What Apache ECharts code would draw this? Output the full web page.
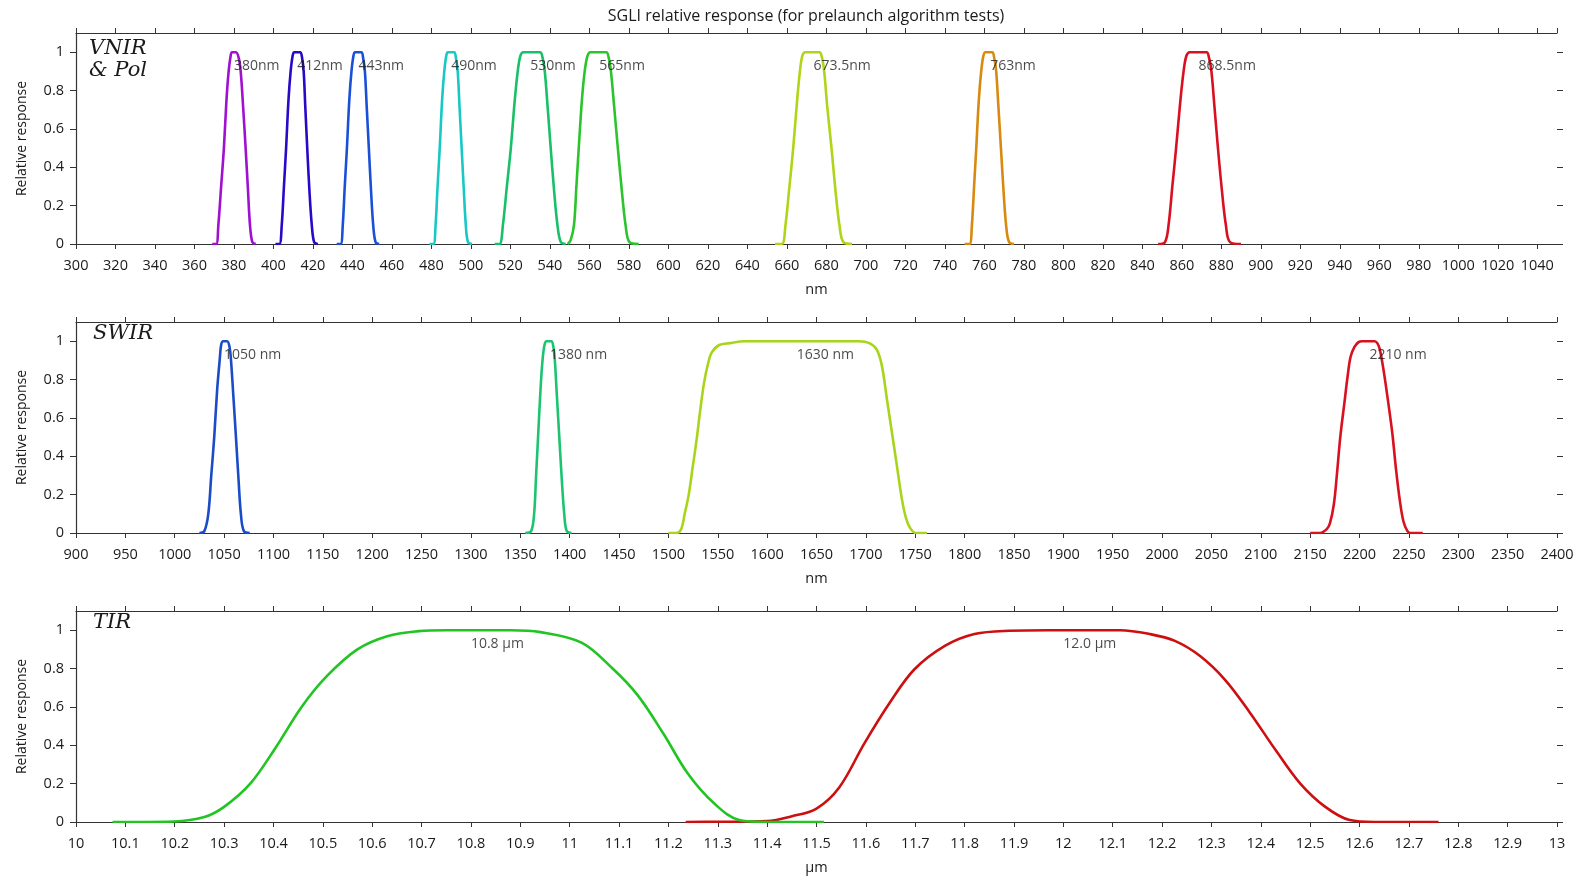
<!DOCTYPE html>
<html>
<head>
<meta charset="utf-8">
<script src="https://cdn.jsdelivr.net/npm/echarts@6/dist/echarts.min.js"></script>
<style>
  html, body { margin: 0; padding: 0; background: #fff; }
  #chart { width: 1585px; height: 882px; }
</style>
</head>
<body>
<div id="chart"></div>
<script>
// --- VNIR & Pol bands (nm, relative response) ---
const b380 = [[369,0],[371,0],[372.1,0.1],[373.5,0.3],[374.9,0.5],[376.2,0.75],[377.3,0.9],[378.3,0.98],[379,1],[381,1],[382.4,0.97],[383.4,0.9],[384.6,0.72],[385.9,0.5],[387.1,0.28],[388.1,0.1],[389.3,0.01],[391,0]];
const b412 = [[401,0],[403,0],[404.2,0.1],[405.3,0.3],[406.4,0.5],[407.6,0.75],[408.7,0.9],[409.7,0.98],[410.5,1],[413.5,1],[414.5,0.97],[415.3,0.9],[416.1,0.72],[417.1,0.5],[418.2,0.28],[419.4,0.1],[420.6,0.01],[422.5,0]];
const b443 = [[432,0],[434,0],[435.1,0.1],[436.1,0.3],[437.2,0.5],[438.4,0.75],[439.5,0.9],[440.5,0.98],[441.3,1],[444.5,1],[445.4,0.97],[446.3,0.9],[447.2,0.72],[448.3,0.5],[449.4,0.28],[450.5,0.1],[451.7,0.01],[453.5,0]];
const b490 = [[479,0],[481,0],[482.1,0.1],[483.1,0.3],[484.2,0.5],[485.4,0.75],[486.5,0.9],[487.5,0.98],[488.3,1],[491.5,1],[492.4,0.97],[493.3,0.9],[494.2,0.72],[495.3,0.5],[496.4,0.28],[497.4,0.1],[498.5,0.01],[500.5,0]];
const b530 = [[512,0],[514.5,0],[516.2,0.1],[518.2,0.3],[520.2,0.5],[522.2,0.75],[523.7,0.9],[525,0.98],[526.5,1],[535,1],[536.3,0.97],[537.4,0.9],[538.8,0.72],[540.4,0.5],[542.1,0.28],[543.8,0.1],[545.5,0.01],[548,0]];
const b565 = [[549,0],[550.5,0.02],[552.2,0.1],[553.4,0.3],[554.6,0.5],[556.2,0.75],[557.6,0.9],[559,0.98],[560.5,1],[568.5,1],[569.8,0.97],[570.9,0.9],[572.5,0.72],[574.4,0.5],[576.4,0.28],[578.3,0.1],[580.3,0.01],[585,0]];
const b673 = [[654,0],[657.5,0],[659.3,0.1],[661.3,0.3],[663.2,0.5],[665.2,0.75],[666.6,0.9],[667.8,0.98],[669.2,1],[676.5,1],[677.8,0.97],[678.9,0.9],[680.4,0.72],[682.6,0.5],[684.6,0.28],[686.6,0.1],[688.6,0.01],[693,0]];
const b763 = [[750,0],[752.5,0],[753.7,0.1],[754.8,0.3],[755.9,0.5],[757.2,0.75],[758.4,0.9],[759.5,0.98],[760.5,1],[764,1],[765,0.97],[766,0.9],[767.1,0.72],[768.4,0.5],[769.7,0.28],[771,0.1],[772.5,0.01],[775,0]];
const b868 = [[848,0],[851.5,0.01],[853.3,0.1],[855.2,0.3],[857.1,0.5],[859.3,0.75],[860.9,0.9],[862.3,0.98],[864,1],[872.5,1],[873.8,0.97],[875,0.9],[876.5,0.72],[878.3,0.5],[880.3,0.28],[882.3,0.1],[884.4,0.01],[890,0]];

// --- SWIR bands (nm) ---
const b1050 = [[1025,0],[1030,0.01],[1034,0.1],[1037,0.3],[1040,0.5],[1043,0.75],[1045.5,0.9],[1047,0.98],[1049,1],[1053,1],[1055.5,0.97],[1057,0.9],[1059.3,0.72],[1062,0.5],[1064.6,0.28],[1067,0.1],[1070,0.01],[1076,0]];
const b1380 = [[1355,0],[1361,0.01],[1364,0.1],[1366,0.3],[1368,0.5],[1370.5,0.75],[1372.5,0.9],[1374.5,0.98],[1376.5,1],[1381.5,1],[1383.5,0.97],[1385,0.9],[1387,0.72],[1389.5,0.5],[1392,0.28],[1394.5,0.1],[1397,0.01],[1402,0]];
const b1630 = [[1500,0],[1508,0],[1512.9,0.02],[1516.5,0.1],[1520.6,0.2],[1524.5,0.34],[1528.4,0.48],[1532,0.63],[1536,0.78],[1540,0.88],[1543.8,0.94],[1551.5,0.98],[1562,0.99],[1577,1],[1693,1],[1703.6,0.99],[1711.2,0.955],[1716.3,0.87],[1721.4,0.695],[1726.5,0.52],[1731.6,0.345],[1736.7,0.17],[1740.5,0.08],[1744.4,0.03],[1750.5,0],[1762,0]];
const b2210 = [[2150,0],[2160,0],[2166.8,0.02],[2170,0.05],[2174,0.15],[2177,0.3],[2180.5,0.5],[2184.7,0.68],[2188,0.82],[2191,0.92],[2194.9,0.97],[2199,0.995],[2202.6,1],[2215.3,1],[2218,0.99],[2220.4,0.96],[2224,0.86],[2228,0.72],[2233.2,0.52],[2237,0.33],[2240.8,0.17],[2244.5,0.06],[2248.5,0.01],[2252,0],[2264,0]];

// --- TIR bands (um) ---
const b108 = [[10.074,0],[10.198,0.003],[10.26,0.026],[10.3,0.079],[10.353,0.2],[10.405,0.39],[10.457,0.6],[10.508,0.76],[10.57,0.9],[10.632,0.97],[10.694,0.995],[10.75,1],[10.88,1],[10.941,0.99],[11.024,0.935],[11.087,0.8],[11.138,0.66],[11.19,0.46],[11.24,0.25],[11.293,0.096],[11.345,0.009],[11.397,0],[11.515,0]];
const b120 = [[11.235,0],[11.3,0.001],[11.4,0.005],[11.45,0.03],[11.5,0.07],[11.546,0.18],[11.597,0.41],[11.648,0.62],[11.698,0.795],[11.76,0.918],[11.82,0.98],[11.89,0.997],[11.97,1],[12.115,1],[12.175,0.98],[12.226,0.944],[12.277,0.865],[12.328,0.74],[12.378,0.57],[12.43,0.375],[12.48,0.2],[12.53,0.08],[12.58,0.01],[12.63,0],[12.76,0]];

const vnirBands = [b380, b412, b443, b490, b530, b565, b673, b763, b868];
const vnirColors = ['#a010d0', '#2a08c8', '#1a50d8', '#18c8c4', '#18c068', '#2cc42c', '#b0d418', '#d88a10', '#d81020'];
const vnirLabels = [[380,'380nm'],[412,'412nm'],[443,'443nm'],[490,'490nm'],[530,'530nm'],[565,'565nm'],[673.5,'673.5nm'],[763,'763nm'],[868.5,'868.5nm']];

const swirBands = [b1050, b1380, b1630, b2210];
const swirColors = ['#1a4cc8', '#1cc470', '#a8d41c', '#d81020'];
const swirLabels = [[1050,'1050 nm'],[1380,'1380 nm'],[1630,'1630 nm'],[2210,'2210 nm']];

const tirBands = [b120, b108];
const tirColors = ['#cc1010', '#22c422'];
const tirLabels = [[10.8,'10.8 μm'],[12.0,'12.0 μm']];

const yTicks = [0, 0.2, 0.4, 0.6, 0.8, 1];
const labelY = 0.93;
const panels = [
  { min: 300, max: 1050, interval: 20, unit: 'nm', top: 33, bands: vnirBands, colors: vnirColors, labels: vnirLabels },
  { min: 900, max: 2400, interval: 50, unit: 'nm', top: 322, bands: swirBands, colors: swirColors, labels: swirLabels },
  { min: 10, max: 13, interval: 0.1, unit: 'μm', top: 611, bands: tirBands, colors: tirColors, labels: tirLabels }
];

const FONT = '"Open Sans", "Noto Sans", sans-serif';
const axisCol = '#333';
const textCol = '#1a1a1a';
const fmt = v => String(+v.toFixed(2));

const grid = [], xAxis = [], yAxis = [], series = [];
panels.forEach((p, i) => {
  grid.push({ left: 76, right: 28, top: p.top, height: 211 });
  // bottom axis with labels
  xAxis.push({
    type: 'value', gridIndex: i, position: 'bottom', min: p.min, max: p.max, interval: p.interval,
    name: p.unit, nameLocation: 'middle', nameGap: 38,
    nameTextStyle: { fontFamily: FONT, fontSize: 14.5, color: textCol },
    axisLine: { onZero: false, lineStyle: { color: axisCol, width: 1.2 } },
    axisTick: { length: 5, lineStyle: { color: axisCol } },
    axisLabel: { fontFamily: FONT, fontSize: 14.5, color: textCol, margin: 14, formatter: fmt,
      showMaxLabel: i !== 0 },
    splitLine: { show: false }
  });
  // top mirror axis
  xAxis.push({
    type: 'value', gridIndex: i, position: 'top', min: p.min, max: p.max, interval: p.interval,
    axisLine: { onZero: false, lineStyle: { color: axisCol, width: 1.2 } },
    axisTick: { length: 5, lineStyle: { color: axisCol } },
    axisLabel: { show: false }, splitLine: { show: false }
  });
  yAxis.push({
    type: 'value', gridIndex: i, position: 'left', min: 0, max: 1.1, interval: 0.2,
    name: 'Relative response', nameLocation: 'middle', nameGap: 47,
    nameTextStyle: { fontFamily: FONT, fontSize: 14, color: textCol },
    axisLine: { show: true, onZero: false, lineStyle: { color: axisCol, width: 1.2 } },
    axisTick: { show: true, length: 6, customValues: yTicks, lineStyle: { color: axisCol } },
    axisLabel: { fontFamily: FONT, fontSize: 14.5, color: textCol, margin: 12, customValues: yTicks, formatter: fmt },
    splitLine: { show: false }
  });
  yAxis.push({
    type: 'value', gridIndex: i, position: 'right', min: 0, max: 1.1, interval: 0.2,
    axisLine: { show: false, onZero: false },
    axisTick: { show: true, length: 6, customValues: yTicks, lineStyle: { color: axisCol } },
    axisLabel: { show: false }, splitLine: { show: false }
  });
  p.bands.forEach((b, k) => {
    series.push({
      type: 'line', xAxisIndex: 2 * i, yAxisIndex: 2 * i, data: b,
      showSymbol: false, smooth: 0.35, silent: true,
      lineStyle: { color: p.colors[k], width: 2.6 }
    });
  });
  series.push({
    type: 'scatter', xAxisIndex: 2 * i, yAxisIndex: 2 * i, symbolSize: 0, z: 5,
    data: p.labels.map(l => ({ value: [l[0], labelY], name: l[1] })),
    label: { show: true, position: 'right', distance: 0, formatter: '{b}',
      fontFamily: FONT, fontSize: 14, color: textCol }
  });
});

const serif = 'italic 21px "DejaVu Serif", "Liberation Serif", serif';
const chart = echarts.init(document.getElementById('chart'), null, { renderer: 'canvas' });
chart.setOption({
  backgroundColor: '#fff',
  animation: false,
  title: {
    text: 'SGLI relative response (for prelaunch algorithm tests)',
    left: 801, top: 3, textAlign: 'center',
    textStyle: { fontFamily: FONT, fontSize: 16, fontWeight: 'normal', color: textCol }
  },
  graphic: [
    { type: 'text', left: 89, top: 38, style: { text: 'VNIR', font: serif, fill: textCol } },
    { type: 'text', left: 89, top: 60, style: { text: '& Pol', font: serif, fill: textCol } },
    { type: 'text', left: 93, top: 323, style: { text: 'SWIR', font: serif, fill: textCol } },
    { type: 'text', left: 93, top: 612, style: { text: 'TIR', font: serif, fill: textCol } }
  ],
  grid, xAxis, yAxis, series
});
</script>
</body>
</html>
